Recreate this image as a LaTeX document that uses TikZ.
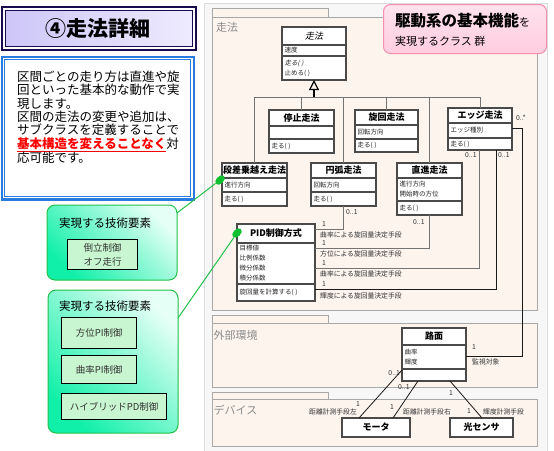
\documentclass[tikz,border=0pt]{standalone}
\usepackage{fontspec}
\setmainfont{Noto Sans CJK JP}
\newfontfamily\jpsl{Noto Sans CJK JP}[FakeSlant=0.2]
\usetikzlibrary{arrows.meta,shapes.geometric}
\definecolor{navy}{HTML}{1A0A50}
\definecolor{lavL}{HTML}{CDC6F8}
\definecolor{lavR}{HTML}{EEEBFF}
\definecolor{bluebd}{HTML}{2A7BE0}
\definecolor{pkgfill}{HTML}{FCF4ED}
\definecolor{pkgline}{HTML}{A8A8A8}
\definecolor{pkgtext}{HTML}{8C8C8C}
\definecolor{panel}{HTML}{F7F7F7}
\definecolor{panelline}{HTML}{DCDCDC}
\definecolor{clsline}{HTML}{4A4A4A}
\definecolor{pinktop}{HTML}{FFE2EE}
\definecolor{pinkbot}{HTML}{FFCDE0}
\definecolor{pinkline}{HTML}{F490B0}
\definecolor{grnline}{HTML}{22C04A}
\definecolor{grnsat}{HTML}{10F0A8}
\definecolor{grnlight}{HTML}{E6FFF6}
\definecolor{grnbox}{HTML}{C8F6D0}
\definecolor{blobc}{HTML}{10C030}
\tikzset{
 clsbox/.style={draw=clsline, fill=white, line width=1.1pt, inner sep=0pt, outer sep=0pt},
 clsln/.style={draw=clsline, line width=1.1pt},
 clsname/.style={font=\fontsize{9}{10}\selectfont\bfseries, inner sep=0pt},
 clstext/.style={font=\fontsize{6.5}{10}\selectfont, align=left, inner sep=0pt, text=black!85},
 simplebox/.style={draw=clsline, fill=white, line width=1.1pt, inner sep=0pt, outer sep=0pt, font=\fontsize{9}{10}\selectfont\bfseries},
 pkg/.style={draw=pkgline, fill=pkgfill, line width=0.8pt},
 pkglbl/.style={font=\fontsize{11}{12}\selectfont, text=pkgtext, inner sep=0pt, anchor=west},
 gen/.style={draw=black!55, line width=1pt},
 genmain/.style={draw=black, line width=1.2pt},
 assoc/.style={draw=black!55, line width=0.9pt},
 assocd/.style={draw=black!90, line width=0.8pt},
 lbl/.style={font=\fontsize{6.8}{8}\selectfont, inner sep=0pt, text=black!80},
 gcall/.style={draw=grnline, line width=1pt, rounded corners=8pt, bottom color=grnsat, top color=grnlight, shading angle=-45, inner sep=0pt, outer sep=0pt},
 callhead/.style={font=\fontsize{11.5}{12}\selectfont, inner sep=0pt},
 techbox/.style={draw=black, line width=1.3pt, fill=grnbox, inner sep=0pt, align=center, font=\fontsize{9.5}{14}\selectfont, text=black!80},
 grnln/.style={draw=grnline, line width=1pt},
 blobst/.style={ellipse, fill=blobc, minimum width=11pt, minimum height=7pt, inner sep=0pt, rotate=45},
 pinkbox/.style={draw=pinkline, line width=1pt, rounded corners=7pt, top color=pinktop, bottom color=pinkbot, inner sep=0pt},
}
\def\umlgeom#1,#2,#3,#4,#5,#6\relax{\def\clXa{#1}\def\clYa{#2}\def\clXb{#3}\def\clYb{#4}\def\clSa{#5}\def\clSb{#6}}
\newcommand\umlcls[5]{%
 \umlgeom#2\relax
 \node[clsbox, minimum width={\clXb-\clXa}, minimum height={\clYb-\clYa}, anchor=north west] (#1) at (\clXa,\clYa) {};
 \draw[clsln] (\clXa,\clSa) -- (\clXb,\clSa) (\clXa,\clSb) -- (\clXb,\clSb);
 \node[clsname] (#1-n) at ({(\clXa+\clXb)/2},{(\clYa+\clSa)/2}) {#3};
 \node[clstext, anchor=west] (#1-a) at ({\clXa+2.5},{(\clSa+\clSb)/2}) {#4};
 \node[clstext, anchor=west] (#1-o) at ({\clXa+2.5},{(\clSb+\clYb)/2}) {#5};
}
\begin{document}
\begin{tikzpicture}[x=1pt,y=-1pt]
\useasboundingbox (0,0) rectangle (554,450);
% ---------- left column ----------
\draw[navy, line width=2.5pt] (2,7) rectangle (196,50);
\draw[navy, line width=1.2pt, left color=lavL, right color=lavR] (5.5,10.5) rectangle (192.5,46.5);
\node[font=\fontsize{21}{22}\selectfont\bfseries, inner sep=0pt] (title) at (98,28.5) {④走法詳細};
\draw[bluebd, line width=2.2pt, fill=white] (2.2,57) rectangle (193.8,199.5);
\draw[bluebd, line width=1.1pt] (4.8,59.5) rectangle (190.8,196.5);
\node[anchor=north west, align=left, inner sep=0pt, font=\fontsize{12.5}{13.4}\selectfont] (desc) at (17,70.5) {区間ごとの走り方は直進や旋\\回といった基本的な動作で実\\現します。\\区間の走法の変更や追加は、\\サブクラスを定義することで\\\textcolor{red}{\bfseries\underline{基本構造を変えることなく}}対\\応可能です。};
% callouts
\node[gcall, minimum width=130, minimum height=75, anchor=north west] (c1) at (47,205) {};
\node[callhead, anchor=west] (c1h) at (59,223) {実現する技術要素};
\node[techbox, minimum width=70, minimum height=30, anchor=north west] (t1) at (67,239) {倒立制御\\オフ走行};
\node[gcall, minimum width=130, minimum height=143, anchor=north west] (c2) at (48,290) {};
\node[callhead, anchor=west] (c2h) at (59,306) {実現する技術要素};
\node[techbox, minimum width=75, minimum height=31, anchor=north west] (t2) at (61,317) {方位PI制御};
\node[techbox, minimum width=75, minimum height=28, anchor=north west] (t3) at (61,355) {曲率PI制御};
\node[techbox, minimum width=105, minimum height=26, anchor=north west] (t4) at (61,393) {ハイブリッドPD制御};
% ---------- right panel ----------
\draw[panelline, fill=panel] (204,3) rectangle (547,452);
\draw[pkg] (212,8) rectangle (328,17);
\draw[pkg] (212,17) rectangle (537,310);
\node[pkglbl] (p1) at (216,27.5) {走法};
\draw[pkg] (212,315) rectangle (328,323);
\draw[pkg] (212,323) rectangle (537,387);
\node[pkglbl] (p2) at (213.5,335) {外部環境};
\draw[pkg] (212,392) rectangle (328,399);
\draw[pkg] (212,399) rectangle (537,446);
\node[pkglbl] (p3) at (213.5,410) {デバイス};
% pink note
\node[pinkbox, minimum width=163, minimum height=49, anchor=north west] (pink) at (383,4) {};
\node[anchor=west, inner sep=0pt] (pk1) at (395,21) {\fontsize{15.5}{16}\selectfont\bfseries 駆動系の基本機能\fontsize{11}{12}\selectfont\mdseries を};
\node[anchor=west, inner sep=0pt] (pk2) at (395,41) {\fontsize{11}{12}\selectfont 実現するクラス 群};
% ---------- classes ----------
\umlcls{abs}{282,27,346,80,45,56}{\jpsl\mdseries 走法}{速度}{{\jpsl 走る( )}\\止める( )}
\umlcls{stop}{269,110,334,153,126,139}{停止走法}{}{走る( )}
\umlcls{turn}{355,110,418,152,125,139}{旋回走法}{回転方向}{走る( )}
\umlcls{edge}{448,108,512,150,123,138}{エッジ走法}{エッジ種別}{走る( )}
\umlcls{step}{222,163,287,206,178,192}{段差乗越え走法}{進行方向}{走る( )}
\umlcls{arc}{311,163,376,206,178,192}{円弧走法}{回転方向}{走る( )}
\umlcls{str}{397,163,462,215,178,201}{直進走法}{進行方向\\開始時の方位}{走る( )}
\umlcls{pid}{237,224,315,301,243,284}{PID制御方式}{目標値\\比例係数\\微分係数\\積分係数}{旋回量を計算する( )}
\umlcls{road}{402,328,466,381,345,369}{路面}{曲率\\輝度}{}
\node[simplebox, minimum width=68, minimum height=19, anchor=north west] (motor) at (342,418) {モータ};
\node[simplebox, minimum width=63, minimum height=19, anchor=north west] (light) at (450,418) {光センサ};
% ---------- generalization ----------
\coordinate (genhub) at (314,97);
\draw[gen] (step.north) |- (genhub);
\draw[gen] (stop.north) |- (genhub);
\draw[gen] (arc.north) |- (genhub);
\draw[gen] (turn.north) |- (genhub);
\draw[gen] (str.north) |- (genhub);
\draw[gen] (edge.north) |- (genhub);
\draw[genmain, -{Triangle[open,length=10pt,width=10pt]}] (genhub) -- (abs.south);
% ---------- associations ----------
\draw[assoc] (arc.south) |- ([yshift=-5pt]pid.north east);
\draw[assoc] (str.south) |- ([yshift=-24pt]pid.north east);
\draw[assoc] ([xshift=-1pt]edge.south) |- ([yshift=-44pt]pid.north east);
\draw[assocd] ([xshift=16pt]edge.south) |- ([yshift=-65pt]pid.north east);
\draw[assocd] ([yshift=-20pt]edge.north east) -- ++(10,0) |- ([yshift=-28pt]road.north east);
\node[lbl, anchor=west] (m1) at (346,212) {0..1};
\node[lbl, anchor=west] (m2) at (322,224) {1};
\node[lbl, anchor=west] (m3) at (320,235) {曲率による旋回量決定手段};
\node[lbl, anchor=west] (m4) at (413,222) {0..1};
\node[lbl, anchor=west] (m5) at (322,243) {1};
\node[lbl, anchor=west] (m6) at (320,254) {方位による旋回量決定手段};
\node[lbl, anchor=west] (m7) at (465,155) {0..1};
\node[lbl, anchor=west] (m8) at (322,263) {1};
\node[lbl, anchor=west] (m9) at (320,274) {曲率による旋回量決定手段};
\node[lbl, anchor=west] (m10) at (498,155) {0..1};
\node[lbl, anchor=west] (m11) at (322,284) {1};
\node[lbl, anchor=west] (m12) at (320,296) {輝度による旋回量決定手段};
\node[lbl, anchor=west] (m13) at (516,118) {0..*};
\node[lbl, anchor=west] (m14) at (472,347) {1};
\node[lbl, anchor=west] (m15) at (472,362) {監視対象};
% road to devices
\draw[assocd] ([yshift=-42pt]road.north west) -- ([xshift=17pt]motor.north west);
\draw[assocd] ([xshift=16pt]road.south west) -- ([xshift=51pt]motor.north west);
\draw[assocd] ([xshift=48pt]road.south west) -- ([xshift=32pt]light.north west);
\node[lbl, anchor=east] (d1) at (400,373) {0..1};
\node[lbl] (d2) at (358,404) {1};
\node[lbl, anchor=east] (d3) at (357,412) {距離計測手段左};
\node[lbl, anchor=west] (d4) at (398,387) {0..1};
\node[lbl] (d5) at (392,407) {1};
\node[lbl, anchor=west] (d6) at (403,412) {距離計測手段右};
\node[lbl] (d7) at (451,393) {1};
\node[lbl] (d8) at (469,411) {1};
\node[lbl, anchor=west] (d9) at (483,412) {輝度計測手段};
% ---------- green connectors ----------
\node[blobst] (b1) at (220,180) {};
\node[blobst] (b2) at (237,233) {};
\draw[grnln] ([yshift=-8pt]c1.north east) -- (b1);
\draw[grnln] ([yshift=-28pt]c2.north east) -- (b2);
\node[blobst] at (b1) {};
\node[blobst] at (b2) {};
\end{tikzpicture}
\end{document}
